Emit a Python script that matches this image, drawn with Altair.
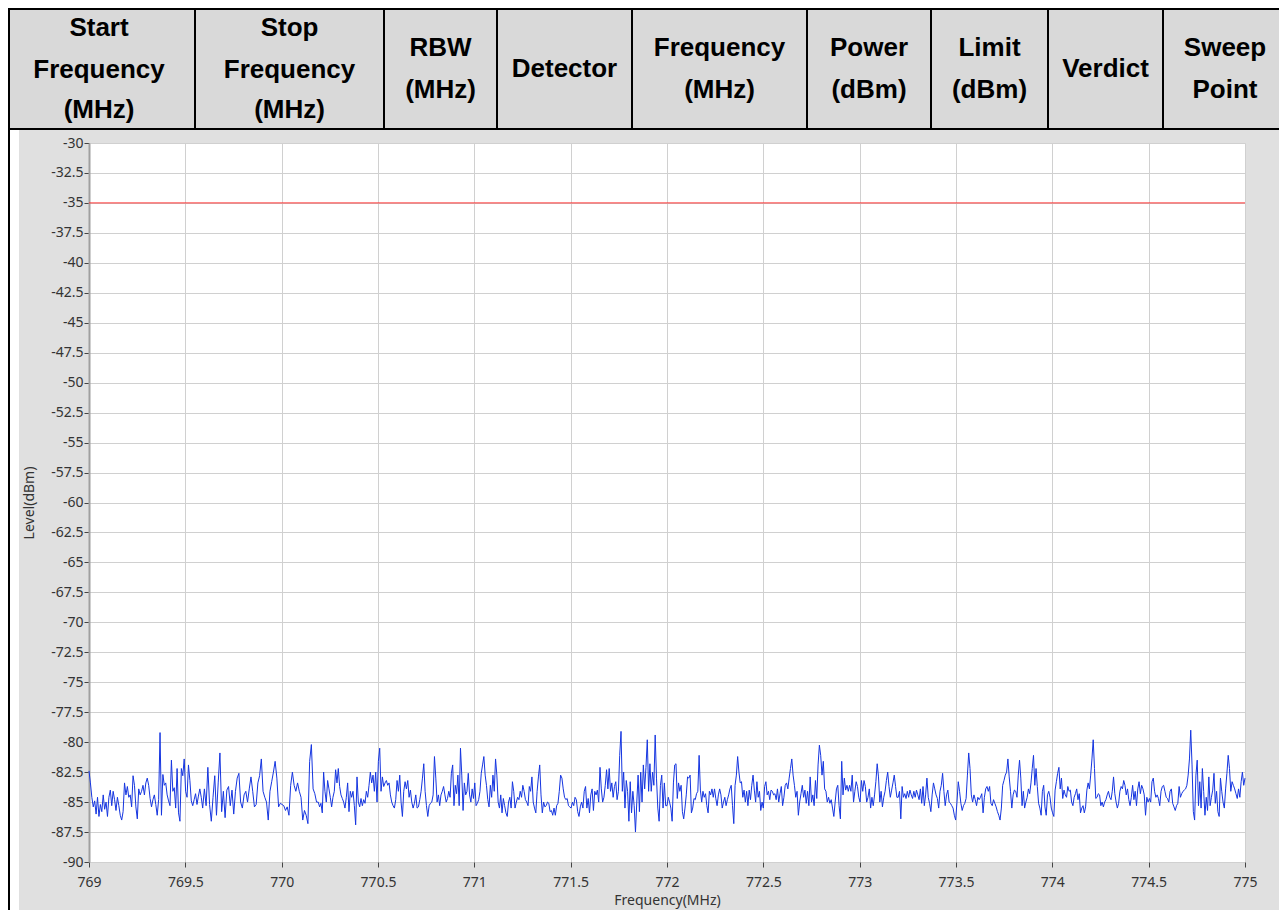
import altair as alt
import pandas as pd

# ---------------- data ----------------
# sweep is split into pieces; each piece is evenly spaced between its edges
SWEEP_EDGES_MHZ = [769.0, 769.59, 770.19, 770.80, 771.40, 772.0, 772.60, 773.20, 773.81, 774.41, 775.0]

LEVEL_SEG_01 = [-82.4, -83.4, -84.6, -85.4, -84.9, -86.0, -84.6, -86.2, -85.2, -85.8,
                -84.4, -85.6, -85.0, -86.2, -84.6, -84.0, -85.3, -84.1, -84.8, -85.7,
                -84.6, -85.3, -86.1, -86.5, -85.8, -83.4, -84.4, -83.7, -84.6, -84.4,
                -85.4, -82.8, -83.6, -85.4, -86.4, -83.9, -84.4, -84.1,
                -83.6, -84.4, -83.4, -83.0, -83.6, -84.7, -85.4, -84.8, -84.4, -85.2,
                -86.1, -84.8, -79.2, -86.1, -82.7, -83.6, -83.4, -84.4, -84.9,
                -85.3, -81.5, -84.1, -83.8, -85.5, -82.2, -85.9, -86.6, -82.2, -82.8,
                -81.4, -84.1, -84.6, -81.9, -83.2, -84.9, -85.3, -84.8, -84.3, -85.2,
                -84.5, -83.9, -84.6]
LEVEL_SEG_02 = [-85.5, -83.9, -85.3, -82.1, -85.2, -86.6, -84.6, -82.8, -86.1,
                -83.4, -80.9, -85.8, -84.1, -86.3, -84.0, -83.7, -85.3, -84.0, -86.0,
                -84.1, -83.0, -82.6, -85.0, -85.5, -84.4, -84.1, -85.0, -83.9, -82.9,
                -84.1, -85.4, -85.2, -83.4, -82.8, -81.4, -84.1, -84.6, -85.0, -86.5,
                -84.1, -83.3, -82.5, -81.6, -83.0, -85.4, -85.1, -85.2, -85.3, -85.7,
                -85.4, -86.1, -83.6, -82.5, -83.6, -84.1, -83.4, -84.1, -84.6, -86.5,
                -85.7, -86.1, -86.8, -81.6, -80.2, -83.9, -84.3, -85.0]
LEVEL_SEG_03 = [-85.0, -85.4, -85.1, -85.9, -82.5, -84.1, -85.0, -83.2, -83.9,
                -84.6, -85.4, -84.6, -84.1, -82.3, -83.4, -82.2, -83.7, -84.4, -84.7,
                -85.0, -85.5, -84.6, -83.4, -85.8, -84.1, -84.6, -84.1, -85.3, -86.9,
                -82.9, -85.0, -85.4, -84.7, -85.3, -84.8, -85.1, -84.1, -84.6, -83.6,
                -82.5, -83.4, -82.75, -84.1, -82.5, -85.0, -81.6, -80.5, -84.1, -82.9,
                -83.7, -83.4, -83.2, -83.6, -83.4, -84.4, -85.0, -85.3, -85.5, -84.8,
                -83.2, -84.1, -82.75, -85.0, -86.2, -84.1, -83.3, -83.9, -83.2, -84.6,
                -84.0, -85.0, -85.5, -85.1, -84.4, -85.5, -85.4, -84.8, -84.1, -83.0,
                -81.8, -84.1, -85.3, -86.2, -85.3, -85.1, -85.0, -84.4, -81.2]
LEVEL_SEG_04 = [-83.0, -85.0, -84.4, -85.3, -84.4, -84.1, -83.7,
                -84.4, -85.0, -84.7, -84.1, -84.6, -82.6, -81.9, -85.3, -83.6, -84.3,
                -82.75, -85.3, -80.5, -82.75, -85.7, -83.4, -84.4, -84.1, -82.6, -84.4,
                -85.0, -83.9, -84.7, -83.4, -85.3, -85.1, -84.8, -84.1, -82.6, -81.9,
                -81.2, -82.75, -83.6, -84.8, -85.4, -83.6, -84.6, -82.75, -84.1, -81.4,
                -82.75, -85.0, -85.5, -84.4, -85.9, -84.7, -85.3, -85.9, -86.2, -85.0,
                -84.6, -85.5, -83.3, -84.1, -85.5, -85.0, -84.6, -84.8, -84.1, -84.6,
                -83.6, -84.1, -84.8, -85.0, -85.3, -83.7, -84.1, -82.9, -85.0, -85.5,
                -85.9, -84.1, -82.9, -81.9, -84.4, -85.9, -85.0, -85.4, -85.3, -85.0,
                -85.1, -85.8]
LEVEL_SEG_05 = [-85.7, -86.1, -85.5, -86.1, -85.3, -85.1, -84.1, -82.75, -83.0,
                -83.9, -84.6, -84.8, -84.7, -85.3, -85.4, -85.5, -85.0, -85.3, -84.6,
                -84.8, -85.8, -86.2, -85.4, -85.0, -85.5, -84.1, -83.7, -85.5, -84.7,
                -85.9, -84.4, -83.9, -85.7, -84.1, -84.4, -84.0, -85.0, -82.1, -83.9,
                -85.0, -84.6, -83.6, -82.3, -83.9, -82.2, -84.1, -83.4, -84.6, -83.7,
                -83.3, -84.8, -84.1, -81.1, -79.1, -84.1, -82.5, -85.5, -83.2, -84.1,
                -86.6, -83.3, -85.9, -84.1, -85.3, -87.5, -85.0, -82.75, -85.8, -82.5,
                -85.0, -81.9, -83.9, -82.1, -79.8, -84.1, -81.8, -84.1, -82.5, -83.6,
                -79.4, -83.0, -85.5, -86.6, -83.6, -82.75, -85.5, -83.4, -85.3]
LEVEL_SEG_06 = [-85.3, -84.6, -85.0, -85.5, -86.6, -83.4, -81.9, -81.8, -84.7, -83.4,
                -84.1, -83.6, -85.8, -86.4, -85.5, -84.4, -82.9, -83.0, -82.75, -85.9,
                -85.5, -84.7, -84.8, -84.3, -84.1, -81.1, -84.0, -85.0, -84.1, -84.6,
                -84.3, -85.3, -85.9, -84.1, -84.4, -83.9, -84.6, -83.9, -84.7, -85.3,
                -84.4, -83.9, -84.4, -85.5, -85.0, -84.6, -85.3, -84.8, -84.4, -83.9,
                -83.6, -85.3, -86.8, -83.6, -82.75, -81.2, -82.5, -83.4, -83.3, -84.6,
                -84.0, -85.0, -84.1, -85.3, -84.0, -84.8, -83.6, -82.75, -84.0, -85.0,
                -83.3, -84.6, -84.1, -85.7, -85.0, -85.5, -83.7, -83.3, -84.4, -84.1,
                -84.8, -84.0, -84.1, -84.4, -84.3, -84.8, -83.9, -85.0, -84.3, -83.7]
LEVEL_SEG_07 = [-85.3, -84.6, -83.6, -83.4, -83.9, -83.0, -82.2, -81.4, -82.75, -83.6,
                -84.6, -84.1, -86.1, -85.0, -84.3, -83.6, -84.6, -84.0, -85.1, -84.1,
                -85.3, -82.9, -85.0, -84.4, -85.3, -83.2, -84.7, -81.9, -80.25, -81.1,
                -82.75, -81.6, -83.9, -84.1, -85.0, -84.6, -85.1, -84.8, -85.5, -86.2,
                -85.0, -83.9, -83.6, -85.3, -86.4, -81.6, -84.4, -83.0, -84.0, -83.6,
                -84.1, -83.6, -84.1, -82.75, -85.0, -84.1, -83.3, -83.7, -84.6, -85.0,
                -83.2, -84.1, -83.2, -83.7, -85.0, -84.6, -83.9, -85.5, -84.6, -85.3,
                -84.4, -83.3, -81.8, -82.9, -85.0, -84.1, -85.4, -84.6, -84.1, -83.2,
                -82.5, -83.7, -84.6, -84.0, -83.4, -82.75, -83.7, -84.6]
LEVEL_SEG_08 = [-84.6, -84.1, -86.4, -83.7, -84.6, -84.3, -84.7, -84.1, -84.6, -84.0,
                -84.4, -84.7, -84.1, -84.6, -84.0, -84.4, -84.8, -83.9, -85.1, -83.7,
                -85.3, -84.4, -83.0, -84.6, -85.1, -85.8, -84.4, -83.4, -83.9, -84.4,
                -84.7, -85.5, -84.1, -83.6, -82.6, -84.1, -85.3, -84.4, -84.0, -85.0,
                -85.1, -85.3, -85.5, -86.1, -86.5, -85.0, -83.3, -84.1, -85.1, -85.7,
                -85.3, -85.1, -84.7, -82.75, -80.9, -82.2, -84.4, -85.0, -84.4, -84.8,
                -85.3, -84.6, -84.8, -84.6, -84.3, -85.9, -84.6, -83.9, -83.7, -84.1,
                -83.7, -85.1, -85.3, -84.8, -85.1, -85.4, -85.8, -86.1, -86.5, -85.5,
                -83.6, -83.2, -82.75, -82.5, -81.4, -82.9, -84.1, -85.5, -84.4, -84.0]
LEVEL_SEG_09 = [-84.1, -84.6, -82.75, -81.5, -83.0, -85.3, -84.1, -85.5, -85.0, -84.6,
                -83.9, -84.3, -83.4, -82.2, -81.1, -83.6, -82.2, -83.7, -85.1, -85.5,
                -86.1, -84.1, -83.6, -85.4, -86.1, -84.4, -84.1, -84.6, -85.5, -85.9,
                -86.2, -84.0, -83.3, -82.6, -82.1, -83.9, -83.0, -84.7, -84.0, -84.4,
                -84.6, -83.7, -84.1, -84.0, -85.0, -85.3, -84.6, -84.3, -83.9, -84.8,
                -84.3, -85.9, -85.5, -85.3, -85.9, -85.4, -84.0, -83.4, -83.9, -82.75,
                -81.4, -79.8, -82.2, -84.7, -84.6, -84.3, -84.4, -85.3, -85.0, -85.4,
                -85.0, -84.8, -84.4, -84.1, -84.6, -84.8, -84.1, -82.9, -84.3, -85.0,
                -85.5, -85.1, -84.1, -83.7, -83.9, -83.2, -83.6, -84.4, -83.9, -84.8,
                -85.3]
LEVEL_SEG_10 = [-84.6, -83.6, -84.8, -84.1, -85.3, -83.9, -83.3, -84.3, -83.6, -83.9,
                -84.4, -86.1, -84.6, -85.0, -84.7, -85.0, -83.3, -83.0, -84.1, -84.6,
                -84.4, -84.7, -85.3, -84.1, -83.7, -83.6, -84.1, -84.6, -84.7, -85.0,
                -84.1, -83.9, -85.1, -85.4, -85.7, -85.3, -85.1, -83.7, -84.6, -84.3,
                -84.1, -84.0, -83.9, -83.6, -82.75, -81.4, -79.0, -81.9, -85.8, -86.5,
                -82.75, -81.5, -85.3, -83.3, -85.5, -82.2, -84.1, -86.1, -84.6, -85.7,
                -82.9, -85.3, -84.6, -84.0, -82.6, -85.1, -84.1, -85.8, -86.2, -83.0,
                -84.1, -85.0, -85.5, -83.9, -82.6, -81.1, -82.2, -84.1, -83.3, -83.6,
                -83.9, -84.3, -84.7, -83.9, -84.6, -83.3, -82.5, -83.6, -83.0]

LIMIT_DBM = [-35.0]

X_TICKS = [769, 769.5, 770, 770.5, 771, 771.5, 772, 772.5, 773, 773.5, 774, 774.5, 775]
Y_TICKS = [-90, -87.5, -85, -82.5, -80, -77.5, -75, -72.5, -70, -67.5, -65, -62.5, -60,
           -57.5, -55, -52.5, -50, -47.5, -45, -42.5, -40, -37.5, -35, -32.5, -30]

HEADER_COLUMNS = [["Start", "Frequency", "(MHz)"],
                  ["Stop", "Frequency", "(MHz)"],
                  ["RBW", "(MHz)"],
                  ["Detector"],
                  ["Frequency", "(MHz)"],
                  ["Power", "(dBm)"],
                  ["Limit", "(dBm)"],
                  ["Verdict"],
                  ["Sweep", "Point"]]

# ---------------- layout (reference pixel positions) ----------------
OX, OY = 89, 143            # top-left of plot area
PLOT_W, PLOT_H = 1156, 719
LEFT, TOP, RIGHT, BOTTOM = 8, 8, 1279, 910
HEADER_EDGES = [3, 195, 384, 497, 632, 807, 931, 1048, 1163, 1287]
LINE_Y = {3: [28, 70, 110], 2: [48, 90], 1: [69]}
HEADER_GREY = "#d9d9d9"
FRAME_GREY = "#e0e0e0"

# ---------------- build tables ----------------
segments = [LEVEL_SEG_01, LEVEL_SEG_02, LEVEL_SEG_03, LEVEL_SEG_04, LEVEL_SEG_05,
            LEVEL_SEG_06, LEVEL_SEG_07, LEVEL_SEG_08, LEVEL_SEG_09, LEVEL_SEG_10]
freqs, levels = [], []
for i, seg in enumerate(segments):
    f0, f1 = SWEEP_EDGES_MHZ[i], SWEEP_EDGES_MHZ[i + 1]
    last = i == len(segments) - 1
    n = len(seg)
    step = (f1 - f0) / ((n - 1) if last else n)
    for k, v in enumerate(seg):
        freqs.append(f0 + k * step)
        levels.append(v)
trace_df = pd.DataFrame({"freq": freqs, "level": levels})
limit_df = pd.DataFrame({"level": LIMIT_DBM})

rects = [
    (LEFT, RIGHT, TOP, 129, HEADER_GREY),
    (LEFT, RIGHT, TOP, TOP + 2, "#000000"),
    (LEFT, RIGHT, 128, 130, "#000000"),
    (LEFT, 19, 130, BOTTOM, "#ffffff"),
    (LEFT, LEFT + 2, TOP, BOTTOM, "#000000"),
]
for e in HEADER_EDGES[1:-1]:
    rects.append((e - 1, e + 1, TOP, 130, "#000000"))
rect_df = pd.DataFrame([{"x": a - OX, "x2": b - OX, "y": c - OY, "y2": d - OY, "fill": f}
                        for a, b, c, d, f in rects])

text_rows = []
for ci, lines in enumerate(HEADER_COLUMNS):
    cx = (HEADER_EDGES[ci] + HEADER_EDGES[ci + 1]) / 2
    for line, ly in zip(lines, LINE_Y[len(lines)]):
        text_rows.append({"x": cx - OX, "y": ly - OY, "label": line})
text_df = pd.DataFrame(text_rows)

# ---------------- charts ----------------
decor = alt.Chart(rect_df).mark_rect().encode(
    x=alt.X("x:Q", scale=None, axis=None),
    x2="x2:Q",
    y=alt.Y("y:Q", scale=None, axis=None),
    y2="y2:Q",
    color=alt.Color("fill:N", scale=None, legend=None),
)

header = alt.Chart(text_df).mark_text(
    font="Liberation Sans", fontSize=26, fontWeight="bold", color="#000000",
    align="center", baseline="middle",
).encode(
    x=alt.X("x:Q", scale=None, axis=None),
    y=alt.Y("y:Q", scale=None, axis=None),
    text="label:N",
)

x_scale = alt.Scale(domain=[769, 775], nice=False, zero=False)
y_scale = alt.Scale(domain=[-90, -30], nice=False, zero=False)

x_axis = alt.Axis(
    values=X_TICKS, labelExpr="'' + datum.value", grid=True, gridColor="#d0d0d0", gridWidth=1,
    domain=False, ticks=True, tickColor="#444444", tickSize=5, tickWidth=1,
    labelFont="Noto Sans", labelFontSize=14, labelColor="#333333", labelPadding=8,
    labelFlush=False, labelOverlap=False,
    title="Frequency(MHz)", titleFont="Noto Sans", titleFontSize=14, titleFontWeight="normal",
    titleColor="#333333", titlePadding=4,
)
y_axis = alt.Axis(
    values=Y_TICKS, labelExpr="'' + datum.value", grid=True, gridColor="#d0d0d0", gridWidth=1,
    domain=True, domainColor="#a0a0a0", domainWidth=2, ticks=True, tickColor="#444444",
    tickSize=5, tickWidth=1, labelFont="Noto Sans", labelFontSize=14, labelColor="#333333",
    labelPadding=1, labelOverlap=False,
    title="Level(dBm)", titleFont="Noto Sans", titleFontSize=14, titleFontWeight="normal",
    titleColor="#333333", titlePadding=14,
)

trace = alt.Chart(trace_df).mark_line(color="#1535e0", strokeWidth=1).encode(
    x=alt.X("freq:Q", scale=x_scale, axis=x_axis),
    y=alt.Y("level:Q", scale=y_scale, axis=y_axis),
)
limit = alt.Chart(limit_df).mark_rule(color="#ff3333", strokeWidth=1).encode(
    y=alt.Y("level:Q", scale=y_scale, axis=y_axis),
)
plot = alt.layer(limit, trace)

chart = alt.layer(decor, header, plot).resolve_scale(
    x="independent", y="independent", color="independent"
).properties(
    width=PLOT_W, height=PLOT_H, padding=0, background=FRAME_GREY,
).configure_view(stroke=None, fill="#ffffff")

chart.save("out.html", embed_options={"renderer": "svg", "actions": False})
